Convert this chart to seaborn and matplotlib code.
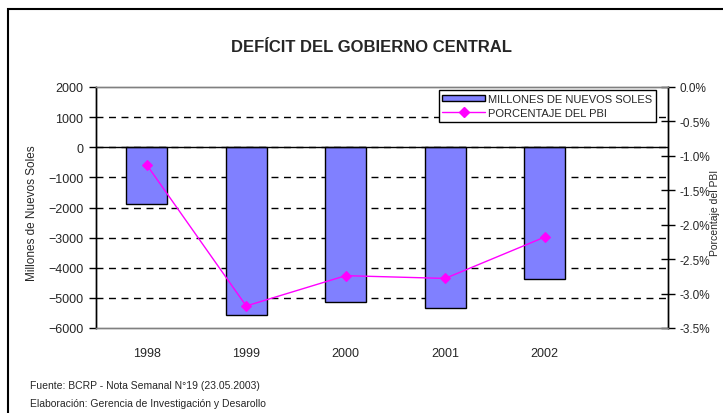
import matplotlib
matplotlib.use("Agg")
import matplotlib.pyplot as plt
import matplotlib.patches as mpatches
import seaborn as sns

YEARS = ["1998", "1999", "2000", "2001", "2002"]
MILLONES = [-1900, -5580, -5150, -5330, -4370]
PORCENTAJE = [-1.13, -3.18, -2.74, -2.78, -2.18]

BAR_COLOR = "#8080FF"
LINE_COLOR = "#FF00FF"

sns.set_style("white")
plt.rcParams["font.family"] = ["Liberation Sans", "DejaVu Sans"]

fig = plt.figure(figsize=(7.23, 4.14), dpi=100)
ax = fig.add_axes([96 / 723, 1 - 329 / 414, 572 / 723, 241 / 414])

# outer frame of the chart area
fig.patches.append(
    mpatches.Rectangle((8 / 723, -0.1), 1.1, 1 - 10 / 414 + 0.1,
                       transform=fig.transFigure, fill=False,
                       edgecolor="black", linewidth=1.5)
)

sns.barplot(x=YEARS, y=MILLONES, ax=ax, color=BAR_COLOR, saturation=1,
            width=0.41, edgecolor="black", linewidth=1)
ax.axhline(0, color="black", linewidth=1, zorder=1.5)

ax.set_ylim(-6000, 2000)
ax.set_yticks(range(-6000, 2001, 1000))
ax.grid(axis="y", color="black", linestyle=(0, (5, 4)), linewidth=1)
ax.set_axisbelow(True)
for tick, val in zip(ax.yaxis.get_major_ticks(), range(-6000, 2001, 1000)):
    if val in (-6000, 2000):
        tick.gridline.set_visible(False)

ax2 = ax.twinx()
sns.pointplot(x=YEARS, y=PORCENTAJE, ax=ax2, color=LINE_COLOR, markers="D",
              markersize=5, linewidth=1, errorbar=None)
ax2.set_ylim(-3.5, 0)
ax2.set_yticks([-3.5, -3.0, -2.5, -2.0, -1.5, -1.0, -0.5, 0.0])
ax2.set_yticklabels([f"{v:.1f}%" for v in ax2.get_yticks()])

ax.set_xlim(-0.51, 5.24)
ax2.set_xlim(-0.51, 5.24)

for a in (ax, ax2):
    a.spines["top"].set_color("#808080")
    a.spines["bottom"].set_color("#808080")
    a.spines["left"].set_color("black")
    a.spines["right"].set_color("black")
    for s in a.spines.values():
        s.set_linewidth(1)

ax.tick_params(axis="y", direction="out", length=5, width=1, color="black",
               labelsize=9, pad=4, left=True)
ax.tick_params(axis="x", length=0, labelsize=9, pad=14)
ax2.tick_params(axis="y", direction="inout", length=10, width=1,
                color="black", labelsize=8.5, pad=3.5, right=True)

ax.set_xlabel("")
ax2.set_xlabel("")
ax.set_ylabel("Millones de Nuevos Soles", fontsize=8.5)
ax.yaxis.set_label_coords(-0.101, 0.48)
ax2.set_ylabel("Porcentaje del PBI", fontsize=7.5, rotation=90)
ax2.yaxis.set_label_coords(1.0734, 0.48)

fig.text(372 / 723, 1 - 47 / 414, "DEFÍCIT DEL GOBIERNO CENTRAL",
         ha="center", va="center", fontsize=12, fontweight="bold")

bar_handle = mpatches.Patch(facecolor=BAR_COLOR, edgecolor="black",
                            linewidth=1)
line_handle = plt.Line2D([], [], color=LINE_COLOR, marker="D", markersize=5,
                         linewidth=1)
leg = ax2.legend([bar_handle, line_handle],
                 ["MILLONES DE NUEVOS SOLES", "PORCENTAJE DEL PBI"],
                 loc="upper right", bbox_to_anchor=(656 / 723, 1 - 91 / 414),
                 bbox_transform=fig.transFigure, fontsize=8, frameon=True,
                 fancybox=False, edgecolor="black", framealpha=1,
                 handlelength=3.8, handleheight=0.5, borderpad=0.35,
                 labelspacing=0.35, handletextpad=0.3, borderaxespad=0)
leg.get_frame().set_linewidth(1)

fig.text(30 / 723, 1 - 386 / 414,
         "Fuente: BCRP - Nota Semanal N°19 (23.05.2003)",
         ha="left", va="center", fontsize=7.5)
fig.text(30 / 723, 1 - 404 / 414,
         "Elaboración: Gerencia de Investigación y Desarollo",
         ha="left", va="center", fontsize=7.5)

fig.savefig("out.png", dpi=100)
